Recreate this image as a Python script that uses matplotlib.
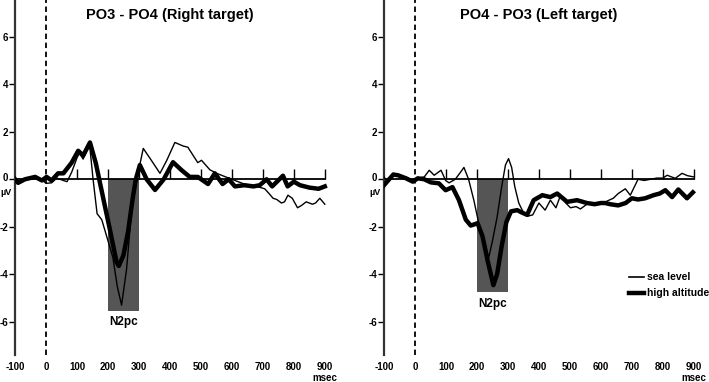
import numpy as np
import matplotlib.pyplot as plt
import matplotlib.transforms as mtransforms
from matplotlib import font_manager

# ==========================[Data]=============================
# left panel: PO3 - PO4 (Right target)
t_sea_r = [-100, -90, -68, -35, -15, 0, 18, 35, 56, 68, 83, 100, 108, 120, 135, 142, 152,
           165, 180, 197, 216, 230, 244, 260, 277, 293, 314, 340, 368, 390, 416, 443, 458,
           490, 502, 529, 551, 580, 600, 620, 640, 660, 680, 706, 720, 733, 745, 760, 770,
           781, 795, 812, 825, 840, 860, 870, 884, 900]
v_sea_r = [0.1, -0.1, 0.0, 0.05, 0.0, -0.17, -0.15, 0.05, -0.05, -0.1, 0.3, 0.9, 1.1, 0.85,
           1.3, 1.3, 0.0, -1.45, -1.7, -2.45, -3.3, -4.5, -5.3, -3.8, -1.2, 0.0, 1.3, 0.8,
           0.25, 0.8, 1.55, 1.4, 1.35, 0.7, 0.8, 0.4, 0.25, 0.1, 0.0, -0.1, -0.2, -0.25,
           -0.3, -0.4, -0.6, -0.8, -0.85, -1.0, -0.95, -0.67, -0.8, -1.2, -1.1, -0.95,
           -1.05, -1.0, -0.8, -1.05]

t_alt_r = [-100, -90, -68, -35, -13, 2, 18, 39, 56, 83, 104, 120, 142, 161, 184, 206, 228,
           235, 250, 265, 280, 290, 303, 325, 352, 380, 410, 438, 464, 490, 523, 545, 570,
           590, 610, 640, 670, 690, 712, 730, 765, 780, 800, 820, 850, 880, 900]
v_alt_r = [0.0, -0.15, 0.0, 0.1, -0.05, 0.1, -0.05, 0.25, 0.25, 0.7, 1.2, 1.0, 1.55, 0.67,
           -0.75, -2.1, -3.5, -3.65, -3.2, -2.2, -0.8, 0.0, 0.6, 0.0, -0.45, 0.0, 0.72,
           0.38, 0.1, 0.1, -0.2, 0.25, -0.2, 0.0, -0.3, -0.25, -0.3, -0.25, 0.0, -0.3, 0.15,
           -0.3, -0.1, -0.25, -0.35, -0.4, -0.3]

# right panel: PO4 - PO3 (Left target)
t_sea_l = [-100, -90, -70, -50, -30, -7, 9, 30, 46, 62, 84, 99, 110, 130, 150, 158, 173,
           190, 205, 220, 238, 250, 265, 280, 292, 302, 312, 322, 335, 350, 365, 380, 400,
           420, 437, 455, 470, 487, 502, 520, 534, 560, 580, 600, 623, 640, 656, 679, 695,
           720, 740, 760, 780, 800, 814, 840, 862, 880, 900]
v_sea_l = [0.1, -0.1, 0.25, 0.15, 0.1, -0.05, 0.05, 0.1, 0.38, 0.17, 0.38, -0.05, -0.15,
           0.0, 0.35, 0.5, 0.0, -0.88, -1.8, -2.5, -3.3, -2.6, -1.6, -0.3, 0.6, 0.87, 0.5,
           -0.3, -1.0, -1.4, -1.55, -1.5, -1.0, -1.3, -0.88, -1.2, -0.67, -1.0, -1.2,
           -1.15, -1.25, -1.0, -1.0, -1.05, -0.9, -0.8, -0.6, -0.4, -0.67, 0.0, -0.05, 0.0,
           0.05, 0.05, 0.17, 0.04, 0.25, 0.15, 0.1]

t_alt_l = [-100, -90, -70, -55, -29, -7, 9, 30, 51, 77, 99, 121, 142, 164, 180, 202, 218,
           234, 253, 265, 280, 295, 310, 330, 345, 362, 383, 411, 437, 459, 491, 523, 555,
           580, 600, 614, 630, 656, 680, 700, 720, 743, 770, 790, 808, 830, 850, 878, 897]
v_alt_l = [-0.25, -0.1, 0.2, 0.17, 0.04, -0.1, 0.04, 0.0, -0.13, -0.17, -0.46, -0.33,
           -0.88, -1.7, -1.95, -1.85, -2.4, -3.4, -4.46, -4.0, -2.8, -1.8, -1.35, -1.3,
           -1.4, -1.5, -0.88, -0.67, -0.75, -0.6, -0.95, -0.88, -1.0, -1.05, -1.0, -1.0,
           -1.05, -1.1, -1.0, -0.8, -0.85, -0.8, -0.67, -0.6, -0.46, -0.75, -0.43, -0.8,
           -0.55]

panels = [
    ("PO3 - PO4 (Right target)", t_sea_r, v_sea_r, t_alt_r, v_alt_r, -5.55, -6.0),
    ("PO4 - PO3 (Left target)", t_sea_l, v_sea_l, t_alt_l, v_alt_l, -4.75, -5.25),
]
xticks = [-100, 0, 100, 200, 300, 400, 500, 600, 700, 800, 900]
yticks = [-6, -4, -2, 0, 2, 4, 6]

# ==========================[Style]=============================
names = {f.name for f in font_manager.fontManager.ttflist}
fam = 'Liberation Sans Narrow' if 'Liberation Sans Narrow' in names else 'Liberation Sans'
plt.rcParams['font.family'] = [fam, 'DejaVu Sans']
plt.rcParams['font.weight'] = 'bold'

fig = plt.figure(figsize=(7.09, 3.82), dpi=100)
lefts = [15 / 709, 384 / 709]

for i, (title, ts, vs, ta, va, rect_low, lab_y) in enumerate(panels):
    ax = fig.add_axes([lefts[i], 27 / 382, 316 / 709, 355 / 382])
    ax.set_xlim(-100, 920)
    ax.set_ylim(-7.4, 7.55)

    ax.fill_between([200, 300], 0, rect_low, color='#555555', lw=0, zorder=1)
    ax.plot([-100, 900], [0, 0], color='black', lw=1.3, zorder=2)
    ax.vlines(xticks[2:], 0, 0.42, color='black', lw=1.0, zorder=2)
    ax.axvline(0, color='black', lw=1.3, ls=(0, (3, 2)), zorder=2)

    ax.plot(ts, vs, color='black', lw=1.0, zorder=3, label='sea level')
    ax.plot(ta, va, color='black', lw=3.2, zorder=4, label='high altitude')

    ax.text(250, lab_y, 'N2pc', ha='center', va='center', fontsize=8.5)
    ax.text(400, 6.9, title, ha='center', va='center', fontsize=10.5)
    ax.text(-128, -0.55, 'µV', ha='center', va='center', fontsize=6.5, clip_on=False)
    ax.text(900, -7.4 - 0.95, 'msec', ha='center', va='center', fontsize=7,
            clip_on=False)

    for s in ['top', 'right', 'bottom']:
        ax.spines[s].set_visible(False)
    ax.spines['left'].set_linewidth(1.6)
    ax.spines['left'].set_color('#333333')

    ax.set_yticks(yticks)
    ax.set_yticklabels([str(y) for y in yticks])
    ax.tick_params(axis='y', direction='out', length=4, width=1, labelsize=7, pad=1)
    # lift the "0" label a little so that "µV" fits below it
    zero_lab = ax.get_yticklabels()[3]
    zero_lab.set_transform(zero_lab.get_transform() +
                           mtransforms.ScaledTranslation(0, 2 / 72, fig.dpi_scale_trans))
    ax.set_xticks(xticks)
    ax.set_xticklabels([str(x) for x in xticks])
    ax.tick_params(axis='x', length=0, labelsize=7, pad=5)

    if i == 1:
        ax.plot([690, 740], [-4.1, -4.1], color='black', lw=1.2)
        ax.plot([690, 740], [-4.8, -4.8], color='black', lw=3.2)
        ax.text(748, -4.1, 'sea level', va='center', fontsize=7.5)
        ax.text(748, -4.8, 'high altitude', va='center', fontsize=7.5)

plt.savefig("out.png", dpi=100)
